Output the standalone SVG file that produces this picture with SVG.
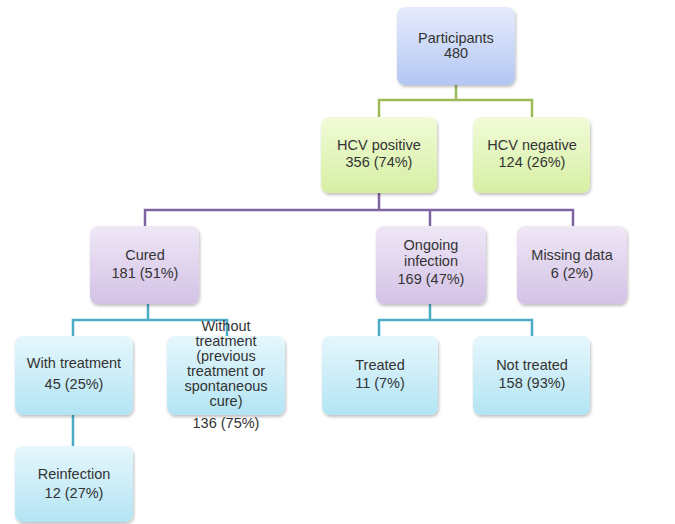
<svg xmlns="http://www.w3.org/2000/svg" width="675" height="524" viewBox="0 0 675 524">
<defs>
<linearGradient id="gBlue" x1="0" y1="0" x2="0" y2="1"><stop offset="0" stop-color="#e6ecfc"/><stop offset="1" stop-color="#b3c6f3"/></linearGradient>
<linearGradient id="gGreen" x1="0" y1="0" x2="0" y2="1"><stop offset="0" stop-color="#f1fbd8"/><stop offset="1" stop-color="#d6efa3"/></linearGradient>
<linearGradient id="gPurple" x1="0" y1="0" x2="0" y2="1"><stop offset="0" stop-color="#efe7f6"/><stop offset="1" stop-color="#d3c2e6"/></linearGradient>
<linearGradient id="gCyan" x1="0" y1="0" x2="0" y2="1"><stop offset="0" stop-color="#e6f7fc"/><stop offset="1" stop-color="#b3e4f4"/></linearGradient>
<filter id="sh" x="-10%" y="-10%" width="125%" height="125%"><feDropShadow dx="1" dy="2" stdDeviation="1.5" flood-color="#000" flood-opacity="0.25"/></filter>
</defs>
<style>
text{font-family:"Liberation Sans",Arial,sans-serif;font-size:14.5px;fill:#333;text-anchor:middle}
.box{filter:url(#sh)}
.c{fill:none;stroke-width:2.5}
.cg{stroke:#9bbb59}.cp{stroke:#8064a2}.ct{stroke:#4bacc6}
</style>
<rect width="675" height="524" fill="#fff"/>
<g id="connectors">
<path class="c cg" d="M456 85 V100 M379 117 V100 H532 V117"/>
<path class="c cp" d="M379 193 V210 M145 226 V210 H573 V226 M430 210 V226"/>
<path class="c ct" d="M148 304 V320 M73 336 V320 H227 V336"/>
<path class="c ct" d="M430 304 V320 M379 336 V320 H532 V336"/>
<path class="c ct" d="M73 415 V446"/>
</g>
<g id="participants"><rect class="box" x="397" y="7" width="118" height="78" rx="8" fill="url(#gBlue)"/><text x="456" y="43">Participants</text><text x="456" y="58">480</text></g>
<g id="hcv-positive"><rect class="box" x="321" y="117" width="116" height="76" rx="8" fill="url(#gGreen)"/><text x="379" y="150">HCV positive</text><text x="379" y="167">356 (74%)</text></g>
<g id="hcv-negative"><rect class="box" x="473" y="117" width="117" height="76" rx="8" fill="url(#gGreen)"/><text x="532" y="150">HCV negative</text><text x="532" y="167">124 (26%)</text></g>
<g id="cured"><rect class="box" x="90" y="226" width="109" height="78" rx="8" fill="url(#gPurple)"/><text x="145" y="260">Cured</text><text x="145" y="278">181 (51%)</text></g>
<g id="ongoing"><rect class="box" x="376" y="226" width="110" height="78" rx="8" fill="url(#gPurple)"/><text x="431" y="250">Ongoing</text><text x="431" y="266">infection</text><text x="431" y="284">169 (47%)</text></g>
<g id="missing"><rect class="box" x="517" y="226" width="110" height="78" rx="8" fill="url(#gPurple)"/><text x="572" y="260">Missing data</text><text x="572" y="278">6 (2%)</text></g>
<g id="with-treatment"><rect class="box" x="15" y="336" width="118" height="79" rx="8" fill="url(#gCyan)"/><text x="74" y="368">With treatment</text><text x="74" y="389">45 (25%)</text></g>
<g id="without-treatment"><rect class="box" x="167" y="336" width="118" height="79" rx="8" fill="url(#gCyan)"/><text x="226" y="331">Without</text><text x="226" y="346">treatment</text><text x="226" y="361">(previous</text><text x="226" y="376">treatment or</text><text x="226" y="391">spontaneous</text><text x="226" y="406">cure)</text><text x="226" y="428">136 (75%)</text></g>
<g id="treated"><rect class="box" x="322" y="336" width="116" height="79" rx="8" fill="url(#gCyan)"/><text x="380" y="370">Treated</text><text x="380" y="388">11 (7%)</text></g>
<g id="not-treated"><rect class="box" x="473" y="336" width="117" height="79" rx="8" fill="url(#gCyan)"/><text x="532" y="370">Not treated</text><text x="532" y="388">158 (93%)</text></g>
<g id="reinfection"><rect class="box" x="15" y="446" width="118" height="76" rx="8" fill="url(#gCyan)"/><text x="74" y="479">Reinfection</text><text x="74" y="498">12 (27%)</text></g>
</svg>
